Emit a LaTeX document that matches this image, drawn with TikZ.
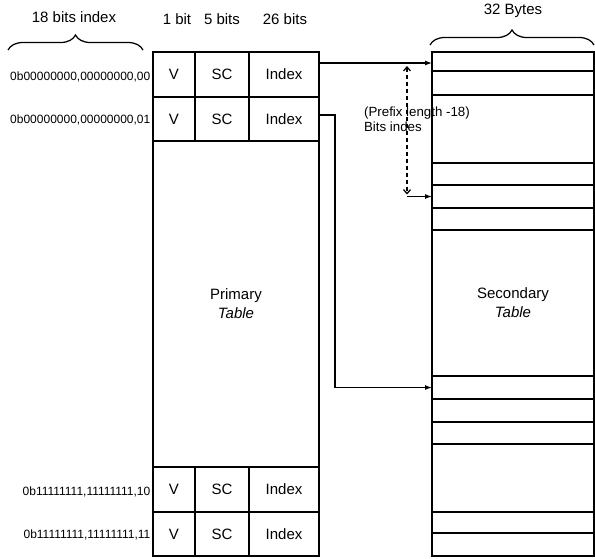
\documentclass[tikz,border=0pt]{standalone}
\usepackage{fontspec}
\setmainfont{Liberation Sans}
\usetikzlibrary{arrows.meta,decorations.pathreplacing}
\begin{document}
\begin{tikzpicture}[x=1pt,y=-1pt,
  line width=1.25pt,
  lbl/.style={font=\fontsize{15}{19}\selectfont, inner sep=0pt},
  cell/.style={draw, inner sep=0pt, outer sep=0pt, anchor=north west, lbl},
  srow/.style={draw, inner sep=0pt, outer sep=0pt, anchor=north west, minimum width=162pt, lbl, align=center},
  bin/.style={font=\fontsize{12}{14}\selectfont, inner sep=0pt, anchor=east},
  arr/.style={-{Latex[length=7pt,width=5pt]}},
  brc/.style={decorate, decoration={brace, amplitude=15pt}}
]
\useasboundingbox (0,0) rectangle (595,558);

% header texts
\node[lbl] (h18) at (74,17) {18 bits index};
\node[lbl] (h1) at (177,19) {1 bit};
\node[lbl] (h5) at (222,19) {5 bits};
\node[lbl] (h26) at (285,19) {26 bits};
\node[lbl] (h32) at (513,11) {32 Bytes};

% braces
\draw[brc] (8,50) -- (143,50);
\draw[brc] (430,45) -- (594,45);

% primary table
\node[cell,minimum width=42pt,minimum height=45pt] (v1) at (153,52) {V};
\node[cell,minimum width=54pt,minimum height=45pt] (c1) at (195,52) {SC};
\node[cell,minimum width=70pt,minimum height=45pt] (i1) at (249,52) {Index};
\node[cell,minimum width=42pt,minimum height=44pt] (v2) at (153,97) {V};
\node[cell,minimum width=54pt,minimum height=44pt] (c2) at (195,97) {SC};
\node[cell,minimum width=70pt,minimum height=44pt] (i2) at (249,97) {Index};
\node[cell,minimum width=166pt,minimum height=326pt,align=center] (prim) at (153,141) {Primary\\\textit{Table}};
\node[cell,minimum width=42pt,minimum height=45pt] (v3) at (153,467) {V};
\node[cell,minimum width=54pt,minimum height=45pt] (c3) at (195,467) {SC};
\node[cell,minimum width=70pt,minimum height=45pt] (i3) at (249,467) {Index};
\node[cell,minimum width=42pt,minimum height=44pt] (v4) at (153,512) {V};
\node[cell,minimum width=54pt,minimum height=44pt] (c4) at (195,512) {SC};
\node[cell,minimum width=70pt,minimum height=44pt] (i4) at (249,512) {Index};

% index labels
\node[bin] (b1) at ([xshift=-2pt,yshift=-2pt]v1.west) {0b00000000,00000000,00};
\node[bin] (b2) at ([xshift=-2pt,yshift=-1pt]v2.west) {0b00000000,00000000,01};
\node[bin] (b3) at ([xshift=-2pt,yshift=-2pt]v3.west) {0b11111111,11111111,10};
\node[bin] (b4) at ([xshift=-2pt,yshift=-1pt]v4.west) {0b11111111,11111111,11};

% secondary table
\node[srow,minimum height=19pt] (s1) at (432,52) {};
\node[srow,minimum height=24pt] (s2) at (432,71) {};
\node[srow,minimum height=68pt] (s3) at (432,95) {};
\node[srow,minimum height=22pt] (s4) at (432,163) {};
\node[srow,minimum height=23pt] (s5) at (432,185) {};
\node[srow,minimum height=22pt] (s6) at (432,208) {};
\node[srow,minimum height=146pt] (s7) at (432,230) {Secondary\\\textit{Table}};
\node[srow,minimum height=23pt] (s8) at (432,376) {};
\node[srow,minimum height=23pt] (s9) at (432,399) {};
\node[srow,minimum height=22pt] (s10) at (432,422) {};
\node[srow,minimum height=68pt] (s11) at (432,444) {};
\node[srow,minimum height=21pt] (s12) at (432,512) {};
\node[srow,minimum height=23pt] (s13) at (432,533) {};

% connectors
\draw[arr] ([yshift=11.5pt]i1.east) -- ([yshift=11.5pt]i1.east -| s1.west);
\draw[arr] ([yshift=4pt]i2.east) -- ++(16,0) |- (s8.west);

% prefix-length text
\node[font=\fontsize{13.3}{15}\selectfont, inner sep=0pt, anchor=west, align=left] (pl) at (363.5,119) {(Prefix length -18)\\Bits indes};

% prefix-length range
\coordinate (dt) at ([xshift=-25pt,yshift=-3pt]s1.west |- i1.north);
\coordinate (db) at ([xshift=-25pt]s5.west);
\draw[dashed, dash pattern=on 4pt off 3pt, {Straight Barb[length=4pt,width=7pt]}-{Straight Barb[length=4pt,width=7pt]}] ([yshift=-11pt]dt) -- ([yshift=2pt]db);
\draw[arr] (db) -- (s5.west);
\end{tikzpicture}
\end{document}
